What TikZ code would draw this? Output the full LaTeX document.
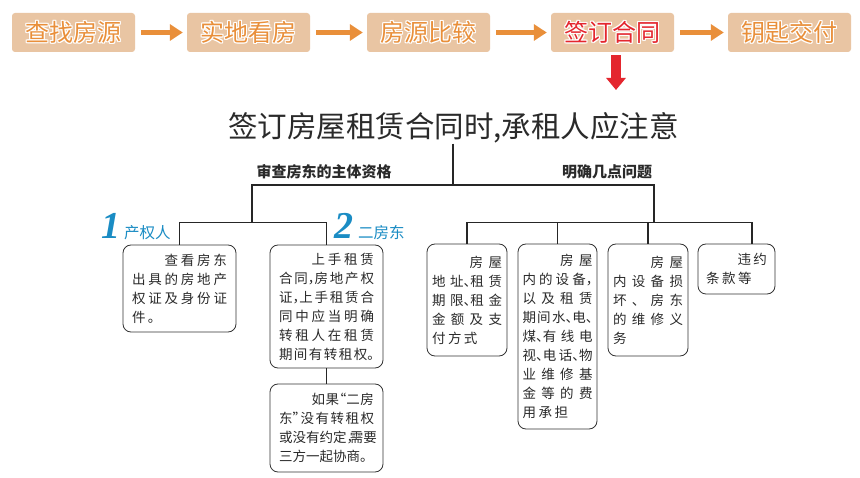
\documentclass[tikz,border=0pt]{standalone}
\usepackage{fontspec}
\setmainfont{Noto Sans CJK SC}
\newfontfamily\numfont{Liberation Serif}
\usetikzlibrary{arrows.meta}
\definecolor{tanfill}{HTML}{E9C5A3}
\definecolor{orangec}{HTML}{E98F3A}
\definecolor{redc}{HTML}{E4262E}
\definecolor{bluec}{HTML}{1A8CC4}
\definecolor{textc}{HTML}{2A2A2A}
\newlength\gapw
\newcommand\wsh[3]{\rlap{\kern#1\raisebox{#2}{\color{white}#3}}}
\newcommand\outl[2]{\wsh{1.2pt}{0pt}{#2}\wsh{-1.2pt}{0pt}{#2}\wsh{0pt}{1.2pt}{#2}\wsh{0pt}{-1.2pt}{#2}\wsh{.85pt}{.85pt}{#2}\wsh{-.85pt}{.85pt}{#2}\wsh{.85pt}{-.85pt}{#2}\wsh{-.85pt}{-.85pt}{#2}{\color{#1}#2}}
% full justified line
\newcommand\fl[1]{\makebox[\hsize][s]{\spaceskip=0pt plus 1fil\relax #1}}
% first line indented by two cells; #1 = number of gaps (cols-1)
\newcommand\il[2]{\gapw=\hsize\advance\gapw by -1em\multiply\gapw by 2\divide\gapw by #1\relax\makebox[\hsize][s]{\spaceskip=0pt plus 1fil\relax\kern\gapw #2}}
% partial (last) line, natural spacing
\newcommand\pl[1]{\makebox[\hsize][l]{\spaceskip=2.5pt\relax #1}}
\newcommand\dn{\makebox[.5em][l]{、}}
\newcommand\cm{\makebox[.5em][l]{，}}
\begin{document}
\begin{tikzpicture}[x=1pt,y=-1pt,
  stage/.style={fill=tanfill, rounded corners=3pt, minimum width=123pt, minimum height=39pt, inner sep=0pt, font=\fontsize{24}{24}\selectfont},
  flow/.style={draw=orangec, line width=5.5pt, shorten <=6pt, shorten >=4pt, -{Triangle[length=13pt,width=16pt]}},
  redarr/.style={draw=redc, line width=10pt, -{Triangle[length=12pt,width=19pt]}},
  bx/.style={draw=black!80, line width=0.8pt, rounded corners=8pt, align=left, inner sep=0pt, text=textc, font=\fontsize{13.5}{19}\selectfont},
  tree/.style={draw=black!85, line width=2pt},
  sub/.style={draw=black!85, line width=1.3pt},
  head/.style={font=\fontsize{15}{15}\selectfont\bfseries, text=textc, inner sep=0pt},
  bignum/.style={text=bluec, inner sep=0pt, font=\numfont\fontsize{38}{38}\selectfont\bfseries\itshape},
  bluelab/.style={text=bluec, inner sep=0pt, anchor=west, font=\fontsize{15.5}{15.5}\selectfont},
]
\useasboundingbox[fill=white] (0,0) rectangle (860,478);

% ---- top process bar ----
\node[stage] (s1) at (73.5,32.5) {\outl{orangec}{查找房源}};
\node[stage] (s2) at (248.5,32.5) {\outl{orangec}{实地看房}};
\node[stage] (s3) at (428.5,32.5) {\outl{orangec}{房源比较}};
\node[stage] (s4) at (612.5,32.5) {\outl{redc}{签订合同}};
\node[stage] (s5) at (789.5,32.5) {\outl{orangec}{钥匙交付}};
\draw[flow] (s1) -- (s2);
\draw[flow] (s2) -- (s3);
\draw[flow] (s3) -- (s4);
\draw[flow] (s4) -- (s5);
\coordinate (rt) at (616,90);
\draw[redarr] ([yshift=-3pt]s4.south -| rt) -- (rt);

% ---- title ----
\node[inner sep=0pt, font=\fontsize{29.5}{29.5}\selectfont, text=textc] (t) at (453.5,128) {签订房屋租赁合同时,承租人应注意};

\coordinate (j) at (453,185);
\coordinate (gl) at (252,223);
\coordinate (jr) at (654,185);
\coordinate (gr) at (654,223);
\draw[tree] (t.south -| j) -- (j);
\draw[tree] (gl) |- (jr) -- (gr);

\node[head] (l1) at (324,172) {审查房东的主体资格};
\node[head] (l2) at (607,172) {明确几点问题};

\node[bignum] (n1) at (111,225.5) {1};
\node[bluelab] (c1) at (124,233) {产权人};
\node[bignum] (n2) at (343.5,225.5) {2};
\node[bluelab] (c2) at (358,233) {二房东};

% ---- left boxes ----
\node[bx, minimum width=113pt, minimum height=87pt, text width=95pt] (b1) at (179.5,288.5) {%
\il{5}{查 看 房 东}\\
\fl{出 具 的 房 地 产}\\
\fl{权 证 及 身 份 证}\\
\pl{件 。}};

\node[bx, minimum width=113pt, minimum height=123pt, text width=95pt] (b2) at (326.5,306.5) {%
\il{5}{上 手 租 赁}\\
\fl{合 同\cm 房 地 产 权}\\
\fl{证\cm 上 手 租 赁 合}\\
\fl{同 中 应 当 明 确}\\
\fl{转 租 人 在 租 赁}\\
\fl{期 间 有 转 租 权\makebox[.5em][l]{。}}};

\node[bx, minimum width=113pt, minimum height=88pt, text width=95pt] (b3) at (326.5,428) {%
\il{5}{如 果 \makebox[.5em][r]{“}二 房}\\
\fl{东\makebox[.5em][l]{”} 没 有 转 租 权}\\
\makebox[\hsize][l]{或没有约定\makebox[.25em][l]{，}需要}\\
\pl{三方一起协商。}};

% ---- right boxes ----
\node[bx, minimum width=80pt, minimum height=112pt, text width=70pt] (bA) at (467,300) {%
\il{3}{房 屋}\\
\fl{地 址\dn 租 赁}\\
\fl{期 限\dn 租 金}\\
\fl{金 额 及 支}\\
\pl{付 方 式}};

\node[bx, minimum width=79pt, minimum height=185pt, text width=70pt] (bB) at (557.5,336.5) {%
\il{3}{房 屋}\\
\fl{内 的 设 备\cm}\\
\fl{以 及 租 赁}\\
\fl{期 间 水\dn 电\dn}\\
\fl{煤\dn 有 线 电}\\
\fl{视\dn 电 话\dn 物}\\
\fl{业 维 修 基}\\
\fl{金 等 的 费}\\
\pl{用 承 担}};

\node[bx, minimum width=80pt, minimum height=112pt, text width=70pt] (bC) at (648,300) {%
\il{3}{房 屋}\\
\fl{内 设 备 损}\\
\fl{坏 、 房 东}\\
\fl{的 维 修 义}\\
\pl{务}};

\node[bx, minimum width=77pt, minimum height=50pt, text width=61pt] (bD) at (736.5,269) {%
\il{3}{违 约}\\
\pl{条 款 等}};

% ---- lower connectors ----
\coordinate (dtop) at (752,244);
\draw[sub] (b1.north) -- ++(0,-22) -| (b2.north);
\draw[sub] (b2.south) -- (b3.north);
\draw[sub] (bA.north) -- ++(0,-21) -| (dtop);
\draw[sub] (bB.north) -- (bB.north |- gr);
\draw[sub] (bC.north) -- (bC.north |- gr);
\end{tikzpicture}
\end{document}
